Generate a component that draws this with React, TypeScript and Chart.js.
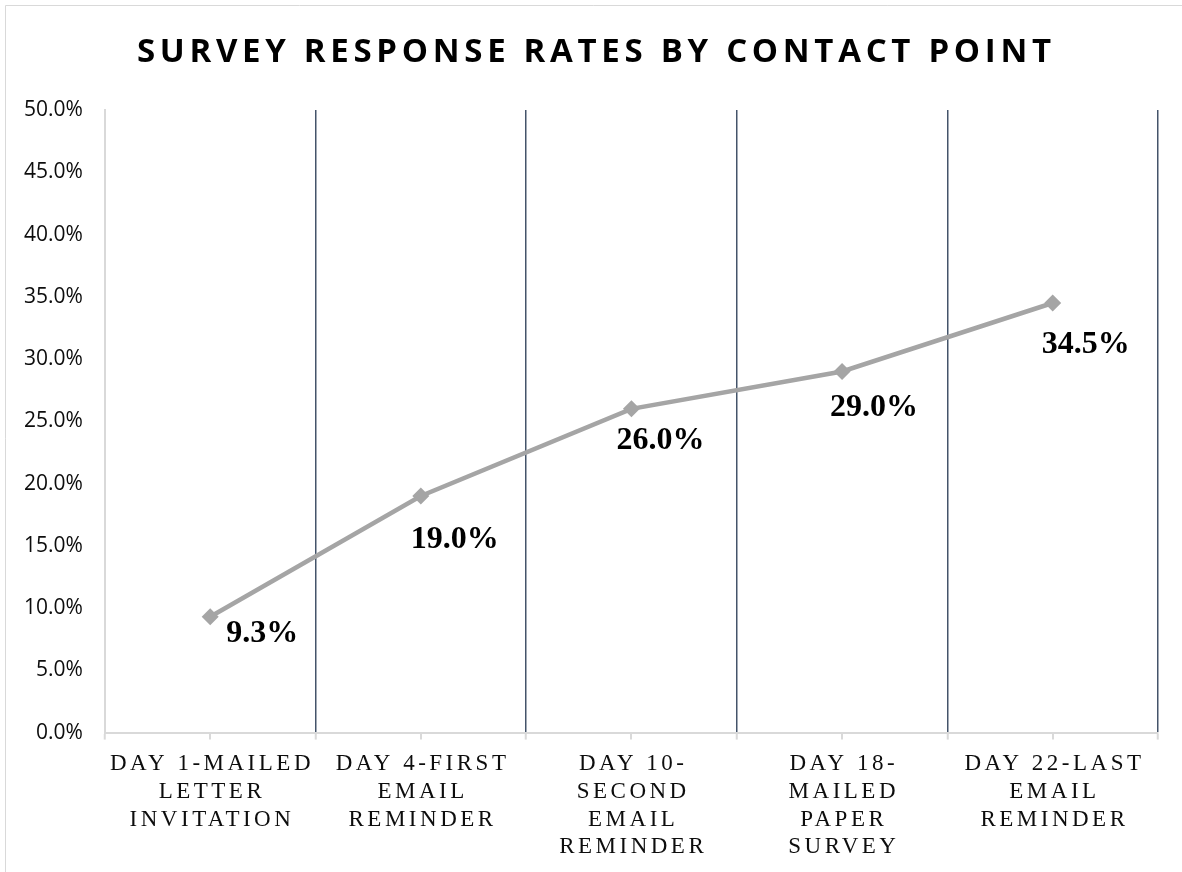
import React, { useEffect, useRef } from 'react';
import { Chart, registerables, CategoryScale } from 'chart.js';

Chart.register(...registerables);

// ---------- data ----------
const TITLE = 'SURVEY RESPONSE RATES BY CONTACT POINT';
const CATEGORIES: string[][] = [
  ['DAY 1-MAILED', 'LETTER', 'INVITATION'],
  ['DAY 4-FIRST', 'EMAIL', 'REMINDER'],
  ['DAY 10-', 'SECOND', 'EMAIL', 'REMINDER'],
  ['DAY 18-', 'MAILED', 'PAPER', 'SURVEY'],
  ['DAY 22-LAST', 'EMAIL', 'REMINDER'],
];
const RESPONSE_RATES = [9.3, 19.0, 26.0, 29.0, 34.5];
const Y_MIN = 0;
const Y_MAX = 50;
const Y_STEP = 5;

// ---------- style ----------
const LINE_COLOR = '#A5A5A5';
const GRID_COLOR = '#44546A';
const AXIS_COLOR = '#D9D9D9';
const TEXT_COLOR = '#0D0D0D';
const X_LABEL_SPACING = 3.5;
const TITLE_SPACING = 4.7;
// data-label nudges (dx, dy) relative to each point, in px
const LABEL_NUDGE: number[][] = [
  [52, 17],
  [34, 44],
  [29, 32],
  [32, 36],
  [33, 42],
];

class SpacedCategoryScale extends CategoryScale {
  static id = 'spacedCategory';
  static defaults = (CategoryScale as any).defaults;
  drawLabels(area: any) {
    const ctx: any = (this as any).ctx;
    ctx.save();
    ctx.letterSpacing = X_LABEL_SPACING + 'px';
    ctx.translate(X_LABEL_SPACING / 2, 0);
    // @ts-ignore
    super.drawLabels(area);
    ctx.restore();
  }
}
Chart.register(SpacedCategoryScale as any);

const framePlugin = {
  id: 'frame',
  beforeDraw(chart: any) {
    const ctx = chart.ctx;
    ctx.save();
    ctx.fillStyle = '#FFFFFF';
    ctx.fillRect(0, 0, chart.width, chart.height);
    ctx.strokeStyle = AXIS_COLOR;
    ctx.lineWidth = 1;
    ctx.beginPath();
    ctx.moveTo(5.5, chart.height);
    ctx.lineTo(5.5, 5.5);
    ctx.lineTo(chart.width, 5.5);
    ctx.stroke();
    ctx.restore();
  },
  afterDraw(chart: any) {
    const ctx = chart.ctx;
    ctx.save();
    ctx.font = 'bold 33px "Open Sans"';
    ctx.letterSpacing = TITLE_SPACING + 'px';
    ctx.fillStyle = '#000000';
    ctx.textAlign = 'center';
    ctx.textBaseline = 'alphabetic';
    ctx.fillText(TITLE, chart.width / 2 + 3 + TITLE_SPACING / 2, 62);
    ctx.restore();
  },
};

const centerTicksPlugin = {
  id: 'centerTicks',
  beforeDatasetsDraw(chart: any) {
    const xs = chart.scales.x;
    const ctx = chart.ctx;
    ctx.save();
    ctx.strokeStyle = AXIS_COLOR;
    ctx.lineWidth = 2;
    for (let i = 0; i < xs.ticks.length; i++) {
      const px = Math.round(xs.getPixelForTick(i));
      ctx.beginPath();
      ctx.moveTo(px, xs.top);
      ctx.lineTo(px, xs.top + 7);
      ctx.stroke();
    }
    ctx.restore();
  },
};

const dataLabelPlugin = {
  id: 'pointLabels',
  afterDatasetsDraw(chart: any) {
    const ctx = chart.ctx;
    const meta = chart.getDatasetMeta(0);
    const values = chart.data.datasets[0].data as number[];
    ctx.save();
    ctx.font = 'bold 32px "Liberation Serif"';
    ctx.fillStyle = '#000000';
    ctx.textAlign = 'center';
    ctx.textBaseline = 'middle';
    meta.data.forEach((pt: any, i: number) => {
      const [dx, dy] = LABEL_NUDGE[i] || [33, 40];
      ctx.fillText(values[i].toFixed(1) + '%', pt.x + dx, pt.y + dy);
    });
    ctx.restore();
  },
};

export default function App() {
  const ref = useRef<HTMLCanvasElement | null>(null);

  useEffect(() => {
    document.body.style.margin = '0';
    if (!ref.current) return;
    const chart = new Chart(ref.current, {
      type: 'line',
      data: {
        labels: CATEGORIES,
        datasets: [
          {
            label: 'Response rate',
            data: RESPONSE_RATES,
            borderColor: LINE_COLOR,
            backgroundColor: LINE_COLOR,
            borderWidth: 4.5,
            pointStyle: 'rectRot',
            pointRadius: 8.5,
            pointHoverRadius: 8.5,
            pointBackgroundColor: LINE_COLOR,
            pointBorderWidth: 0,
            tension: 0,
          },
        ],
      },
      options: {
        animation: false,
        responsive: true,
        maintainAspectRatio: false,
        layout: { padding: { left: 2, right: 24, top: 110, bottom: 0 } },
        plugins: {
          legend: { display: false },
          title: { display: false },
          tooltip: { enabled: false },
        },
        scales: {
          x: {
            type: 'spacedCategory' as any,
            offset: true,
            grid: {
              offset: true,
              display: true,
              drawOnChartArea: true,
              color: (c: any) => (c.index === 0 ? 'rgba(0,0,0,0)' : GRID_COLOR),
              lineWidth: 1.5,
              tickColor: AXIS_COLOR,
              tickLength: 7,
              tickWidth: 2,
            },
            border: { display: true, color: AXIS_COLOR, width: 2 },
            ticks: {
              autoSkip: false,
              maxRotation: 0,
              minRotation: 0,
              padding: 11,
              color: TEXT_COLOR,
              font: { family: '"Liberation Serif"', size: 23, lineHeight: 1.2 },
            },
          },
          y: {
            min: Y_MIN,
            max: Y_MAX,
            grid: { display: false, drawTicks: false },
            border: { display: true, color: AXIS_COLOR, width: 2 },
            ticks: {
              stepSize: Y_STEP,
              padding: 22,
              color: TEXT_COLOR,
              font: { family: '"Open Sans"', size: 21 },
              callback: (v: any) => Number(v).toFixed(1) + '%',
            },
          },
        },
      },
      plugins: [framePlugin, centerTicksPlugin, dataLabelPlugin],
    });
    return () => chart.destroy();
  }, []);

  return (
    <div style={{ width: 1182, height: 872, position: 'relative' }}>
      <canvas ref={ref} />
    </div>
  );
}
